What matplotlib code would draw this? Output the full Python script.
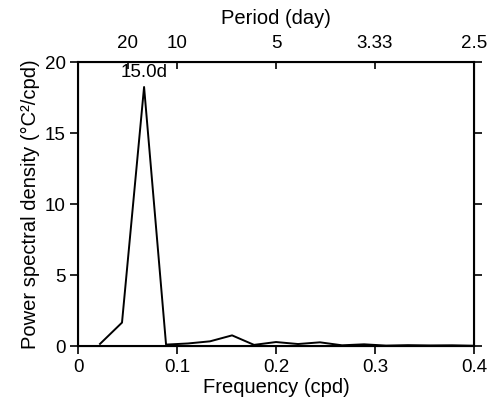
import numpy as np
import matplotlib
matplotlib.use('Agg')
import matplotlib.pyplot as plt

plt.rcParams['font.family'] = ['Liberation Sans', 'DejaVu Sans']

# spectrum (frequency in cpd, psd in degC^2/cpd)
freq = [0.0222, 0.0444, 0.0667, 0.0889, 0.1111, 0.1333, 0.1556, 0.1778, 0.2,
        0.2222, 0.2444, 0.2667, 0.2889, 0.3111, 0.3333, 0.3556, 0.3778, 0.4]
psd = [0.15, 1.65, 18.25, 0.1, 0.18, 0.33, 0.75, 0.08, 0.28,
       0.14, 0.26, 0.05, 0.12, 0.03, 0.06, 0.04, 0.05, 0.02]

period_ticks = [0.05, 0.1, 0.2, 0.3, 0.4]
period_labels = ['20', '10', '5', '3.33', '2.5']
peak_label = '15.0d'

fig = plt.figure(figsize=(4.94, 4.09), dpi=100)
ax1 = fig.add_axes([0.158, 0.154, 0.8015, 0.694])
ax1.plot(freq, psd, color='black', lw=1.4)
ax1.set_xlim(0, 0.4)
ax1.set_ylim(0, 20)
ax1.set_xticks([0, 0.1, 0.2, 0.3, 0.4])
ax1.set_xticklabels(['0', '0.1', '0.2', '0.3', '0.4'])
ax1.set_yticks([0, 5, 10, 15, 20])
ax1.tick_params(direction='out', length=6, width=1.2, labelsize=13.5, right=True, pad=3)
ax1.set_xlabel('Frequency (cpd)', fontsize=14.5, labelpad=2)
ax1.set_ylabel('Power spectral density (°C²/cpd)', fontsize=14.5, labelpad=3)
for s in ax1.spines.values():
    s.set_linewidth(1.5)

# peak label
ip = int(np.argmax(psd))
ax1.annotate(peak_label, (freq[ip], psd[ip]), xytext=(0, 4), textcoords='offset points',
             ha='center', va='bottom', fontsize=13.5)

ax2 = ax1.twiny()
ax2.set_xlim(ax1.get_xlim())
ax2.set_xticks(period_ticks)
ax2.set_xticklabels(period_labels)
ax2.tick_params(direction='in', length=5, width=1.2, labelsize=13.5, pad=7)
ax2.set_xlabel('Period (day)', fontsize=14.5, labelpad=8)

plt.savefig('out.png', dpi=100)
